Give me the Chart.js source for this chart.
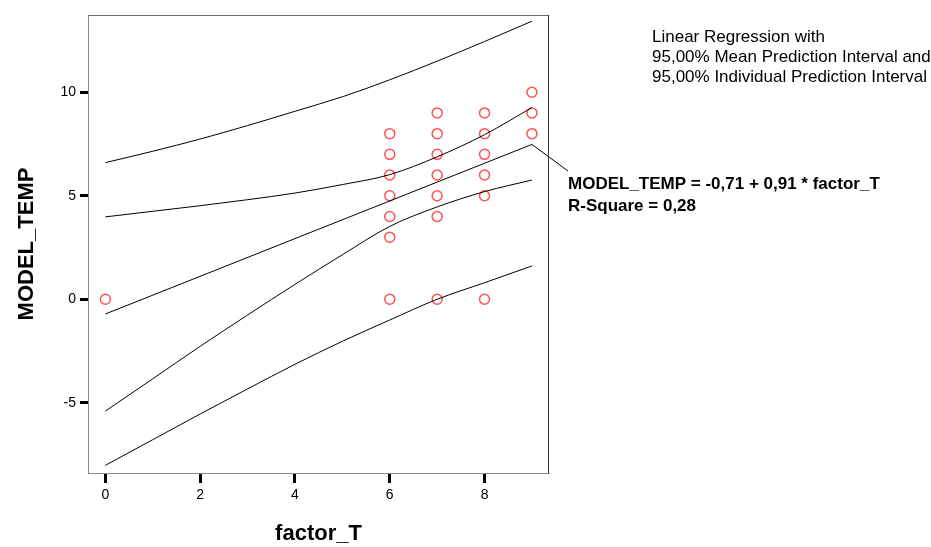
<!DOCTYPE html>
<html>
<head>
<meta charset="utf-8">
<script src="https://cdn.jsdelivr.net/npm/chart.js@4.4.1/dist/chart.umd.min.js"></script>
<style>
  html, body { margin: 0; padding: 0; background: #fff; }
  #wrap { width: 931px; height: 547px; position: relative; }
</style>
</head>
<body>
<div id="wrap"><canvas id="c" width="931" height="547"></canvas></div>
<script>
// Observed cases
const obsX = [0, 6, 6, 6, 6, 6, 6, 6, 7, 7, 7, 7, 7, 7, 7, 8, 8, 8, 8, 8, 8, 9, 9, 9];
const obsY = [0, 0, 3, 4, 5, 6, 7, 8, 0, 4, 5, 6, 7, 8, 9, 0, 5, 6, 7, 8, 9, 8, 9, 10];

// Fitted equation
const intercept = -0.71;
const slope = 0.91;
const rSquare = 0.28;
const fitX = [0, 9];
const fitY = fitX.map(v => intercept + slope * v);

// Interval bands, sampled at each factor_T value
const bandX      = [0, 1, 2, 3, 4, 5, 6, 7, 8, 9];
const meanUpper  = [3.98, 4.25, 4.52, 4.81, 5.13, 5.54, 6.02, 6.88, 7.95, 9.26];
const meanLower  = [-5.40, -3.84, -2.27, -0.76, 0.72, 2.15, 3.52, 4.46, 5.20, 5.76];
const indivUpper = [6.60, 7.15, 7.74, 8.39, 9.08, 9.78, 10.60, 11.50, 12.45, 13.43];
const indivLower = [-8.02, -6.78, -5.54, -4.33, -3.14, -2.03, -1.00, 0.00, 0.80, 1.61];

// Axis ticks
const xTicks = [0, 2, 4, 6, 8];
const yTicks = [-5, 0, 5, 10];

const headerLines = [
  'Linear Regression with',
  '95,00% Mean Prediction Interval and',
  '95,00% Individual Prediction Interval'
];
const fmt = v => v.toFixed(2).replace('.', ',');
const eqLabel = 'MODEL_TEMP = ' + fmt(intercept) + ' + ' + fmt(slope) + ' * factor_T';
const rsqLabel = 'R-Square = ' + fmt(rSquare);

const FONT = '"Liberation Sans", Arial, Helvetica, sans-serif';
Chart.defaults.font.family = FONT;
Chart.defaults.color = '#000';

const pairs = (xs, ys) => xs.map((x, i) => ({ x: x, y: ys[i] }));

const curve = ys => ({
  data: pairs(bandX, ys),
  showLine: true,
  borderColor: '#000',
  borderWidth: 1,
  pointRadius: 0,
  pointHoverRadius: 0,
  cubicInterpolationMode: 'monotone',
  fill: false
});

const annotations = {
  id: 'annotations',
  afterDraw(chart) {
    const { ctx, chartArea: a, scales: { x, y } } = chart;
    ctx.save();
    // top and right edges of the plot frame
    ctx.lineWidth = 1;
    ctx.strokeStyle = '#6a6a6a';
    ctx.beginPath();
    ctx.moveTo(a.left, a.top + 0.5);
    ctx.lineTo(a.right, a.top + 0.5);
    ctx.stroke();
    ctx.strokeStyle = '#333';
    ctx.beginPath();
    ctx.moveTo(a.right - 0.5, a.top);
    ctx.lineTo(a.right - 0.5, a.bottom);
    ctx.stroke();

    // leader from the end of the fitted line to the equation
    const px = x.getPixelForValue(fitX[1]);
    const py = y.getPixelForValue(fitY[1]);
    ctx.strokeStyle = '#000';
    ctx.beginPath();
    ctx.moveTo(px, py);
    ctx.lineTo(568, 171);
    ctx.stroke();

    ctx.fillStyle = '#000';
    ctx.textBaseline = 'alphabetic';
    ctx.textAlign = 'left';
    ctx.font = 'bold 17px ' + FONT;
    ctx.fillText(eqLabel, 568, 189);
    ctx.fillText(rsqLabel, 568, 211);

    ctx.font = '17px ' + FONT;
    headerLines.forEach((t, i) => ctx.fillText(t, 652, 42 + 20 * i));
    ctx.restore();
  }
};

new Chart(document.getElementById('c'), {
  type: 'scatter',
  data: {
    datasets: [
      curve(indivUpper),
      curve(meanUpper),
      {
        data: pairs(fitX, fitY),
        showLine: true,
        borderColor: '#000',
        borderWidth: 1,
        pointRadius: 0,
        pointHoverRadius: 0
      },
      curve(meanLower),
      curve(indivLower),
      {
        data: pairs(obsX, obsY),
        pointStyle: 'circle',
        pointRadius: 5,
        pointBorderWidth: 1.5,
        borderColor: '#ff5252',
        backgroundColor: 'rgba(0,0,0,0)',
        showLine: false
      }
    ]
  },
  options: {
    responsive: false,
    devicePixelRatio: 1,
    animation: false,
    events: [],
    layout: { padding: { left: 0, top: 15, right: 382, bottom: 0 } },
    plugins: { legend: { display: false }, tooltip: { enabled: false } },
    scales: {
      x: {
        type: 'linear',
        min: -0.367,
        max: 9.36,
        afterBuildTicks: s => { s.ticks = xTicks.map(v => ({ value: v })); },
        afterFit: s => { s.height = 74; },
        grid: { drawOnChartArea: false, drawTicks: true, tickLength: 10, tickWidth: 3, tickColor: '#000' },
        border: { display: true, color: '#8a8a8a', width: 1 },
        ticks: { font: { size: 14 }, color: '#000', padding: 4, maxRotation: 0 },
        title: { display: true, text: 'factor_T', font: { size: 22, weight: 'bold' }, color: '#000', padding: { top: 0, bottom: 0 } }
      },
      y: {
        type: 'linear',
        min: -8.39,
        max: 13.73,
        afterBuildTicks: s => { s.ticks = yTicks.map(v => ({ value: v })); },
        afterFit: s => { s.width = 88; },
        grid: { drawOnChartArea: false, drawTicks: true, tickLength: 8, tickWidth: 3, tickColor: '#000' },
        border: { display: true, color: '#8a8a8a', width: 1 },
        ticks: { font: { size: 14 }, color: '#000', padding: 4 },
        title: { display: true, text: 'MODEL_TEMP', font: { size: 22, weight: 'bold' }, color: '#000', padding: { top: 14, bottom: 0 } }
      }
    }
  },
  plugins: [annotations]
});
</script>
</body>
</html>
